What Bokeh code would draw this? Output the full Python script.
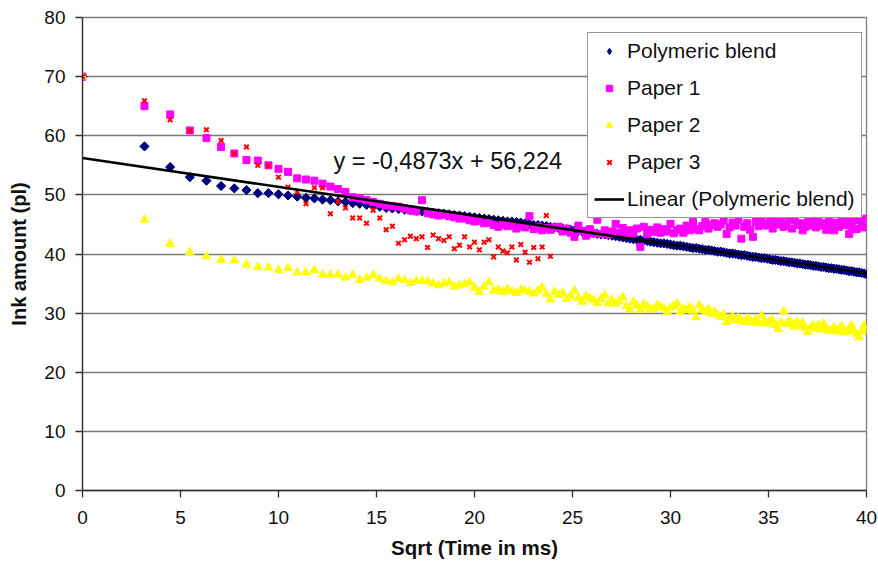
import math
from bokeh.plotting import figure
from bokeh.models import Legend, LegendItem, Label, Range1d, SingleIntervalTicker
from bokeh.embed import file_html
from bokeh.resources import INLINE

# ---- data -------------------------------------------------------------
time_ms = [0, 10, 20, 30, 40, 50, 60, 70, 80, 90,
           100, 110, 120, 130, 140, 150, 160, 170, 180, 190,
           200, 210, 220, 230, 240, 250, 260, 270, 280, 290,
           300, 310, 320, 330, 340, 350, 360, 370, 380, 390,
           400, 410, 420, 430, 440, 450, 460, 470, 480, 490,
           500, 510, 520, 530, 540, 550, 560, 570, 580, 590,
           600, 610, 620, 630, 640, 650, 660, 670, 680, 690,
           700, 710, 720, 730, 740, 750, 760, 770, 780, 790,
           800, 810, 820, 830, 840, 850, 860, 870, 880, 890,
           900, 910, 920, 930, 940, 950, 960, 970, 980, 990,
           1000, 1010, 1020, 1030, 1040, 1050, 1060, 1070, 1080, 1090,
           1100, 1110, 1120, 1130, 1140, 1150, 1160, 1170, 1180, 1190,
           1200, 1210, 1220, 1230, 1240, 1250, 1260, 1270, 1280, 1290,
           1300, 1310, 1320, 1330, 1340, 1350, 1360, 1370, 1380, 1390,
           1400, 1410, 1420, 1430, 1440, 1450, 1460, 1470, 1480, 1490,
           1500, 1510, 1520, 1530, 1540, 1550, 1560, 1570, 1580, 1590, 1600]

polymeric_blend = [70.0, 58.2, 54.7, 53.0, 52.4, 51.5, 51.1, 50.8, 50.3, 50.3,
                   50.1, 49.9, 49.7, 49.5, 49.4, 49.2, 49.1, 48.9, 48.8, 48.6,
                   48.5, 48.3, 48.1, 48.0, 47.8, 47.7, 47.6, 47.5, 47.4, 47.3,
                   47.2, 47.1, 47.0, 46.9, 46.8, 46.7, 46.6, 46.5, 46.4, 46.3,
                   46.2, 46.1, 46.0, 45.9, 45.8, 45.7, 45.6, 45.5, 45.5, 45.4,
                   45.3, 45.2, 45.1, 44.9, 44.9, 44.8, 44.7, 44.6, 44.5, 44.4,
                   44.3, 44.2, 44.1, 44.0, 43.9, 43.8, 43.7, 43.6, 43.5, 43.4,
                   43.3, 43.3, 43.2, 43.1, 43.0, 42.9, 42.8, 42.7, 42.6, 42.5,
                   42.4, 42.4, 42.3, 42.2, 42.1, 42.0, 41.9, 41.8, 41.8, 41.7,
                   41.6, 41.5, 41.4, 41.4, 41.3, 41.2, 41.1, 41.0, 41.0, 40.9,
                   40.8, 40.7, 40.7, 40.6, 40.5, 40.4, 40.4, 40.3, 40.2, 40.1,
                   40.1, 40.0, 39.9, 39.8, 39.8, 39.7, 39.6, 39.5, 39.5, 39.4,
                   39.3, 39.3, 39.2, 39.1, 39.0, 39.0, 38.9, 38.8, 38.8, 38.7,
                   38.6, 38.6, 38.5, 38.4, 38.4, 38.3, 38.2, 38.2, 38.1, 38.0,
                   38.0, 37.9, 37.8, 37.8, 37.7, 37.6, 37.6, 37.5, 37.5, 37.4,
                   37.3, 37.3, 37.2, 37.1, 37.1, 37.0, 36.9, 36.9, 36.8, 36.7, 36.6]

paper_1 = [70.0, 65.0, 63.6, 60.9, 59.6, 58.1, 57.0, 55.9, 55.8, 55.0,
           54.4, 53.9, 52.8, 52.6, 52.4, 51.9, 51.4, 51.0, 50.5, 49.6,
           49.4, 49.1, 48.8, 48.5, 48.2, 48.1, 48.0, 47.7, 47.4, 47.2,
           49.1, 46.9, 46.7, 46.5, 46.7, 46.4, 46.2, 46.0, 46.0, 45.7,
           45.5, 45.6, 45.2, 45.3, 44.9, 44.6, 45.0, 44.7, 44.8, 44.3,
           44.7, 44.5, 46.4, 44.2, 44.6, 44.0, 44.4, 44.1, 44.5, 44.6,
           43.8, 44.3, 43.6, 42.9, 44.8, 43.9, 43.1, 44.2, 43.5, 45.8,
           43.4, 44.0, 43.3, 43.8, 45.1, 43.6, 44.4, 43.2, 44.0, 43.5,
           44.3, 41.2, 44.6, 43.4, 44.1, 43.7, 44.5, 43.6, 44.2, 43.8,
           45.1, 43.5, 44.0, 44.3, 43.6, 44.8, 44.0, 45.4, 44.2, 44.0,
           44.7, 45.4, 44.3, 44.9, 45.2, 44.6, 45.0, 45.7, 43.4, 44.5,
           45.3, 44.8, 45.8, 42.6, 44.6, 45.2, 44.1, 42.9, 45.4, 44.7,
           46.0, 45.1, 44.8, 45.5, 44.3, 45.6, 45.0, 45.4, 44.6, 44.8,
           45.9, 44.3, 45.7, 44.9, 45.2, 44.0, 44.6, 45.4, 44.8, 45.7,
           44.5, 45.9, 44.8, 45.2, 44.1, 45.6, 44.7, 44.0, 45.3, 44.6,
           46.2, 44.9, 45.4, 43.4, 44.7, 45.7, 44.2, 45.8, 44.8, 44.5, 46.0]

paper_2 = [70.0, 45.8, 41.7, 40.3, 39.6, 39.0, 38.9, 38.2, 37.8, 37.7,
           37.3, 37.6, 36.9, 36.9, 37.3, 36.5, 36.5, 36.5, 36.0, 36.5,
           35.6, 36.0, 36.4, 35.8, 35.4, 35.2, 35.8, 35.6, 35.1, 35.5,
           35.4, 35.4, 35.0, 34.7, 35.0, 35.2, 34.5, 34.7, 34.9, 35.2,
           34.3, 33.6, 34.5, 35.2, 33.8, 34.0, 33.6, 34.1, 33.7, 33.4,
           34.0, 33.8, 33.6, 33.3, 33.8, 34.3, 33.2, 32.3, 33.6, 33.1,
           33.4, 32.4, 32.9, 33.8, 32.6, 31.9, 32.9, 32.5, 32.2, 31.7,
           32.4, 33.0, 31.6, 32.2, 31.6, 32.0, 32.7, 31.2, 30.6, 31.9,
           31.3, 30.5, 31.5, 31.1, 30.6, 30.7, 31.4, 31.1, 30.8, 30.2,
           30.9, 31.2, 31.6, 30.2, 30.8, 30.5, 31.0, 30.4, 29.3, 31.3,
           30.6, 30.2, 30.7, 29.9, 30.2, 29.7, 29.3, 29.8, 28.5, 29.0,
           29.4, 28.8, 29.2, 28.7, 28.5, 29.1, 28.8, 28.4, 28.9, 28.3,
           29.6, 28.6, 28.2, 28.7, 28.8, 28.0, 27.3, 28.4, 30.3, 28.1,
           28.6, 28.2, 27.7, 28.5, 27.9, 28.3, 27.5, 26.8, 27.6, 27.9,
           27.4, 28.0, 27.2, 28.2, 27.5, 27.0, 27.1, 27.6, 26.9, 27.3,
           27.8, 26.7, 26.8, 27.4, 27.9, 27.0, 26.5, 25.9, 26.9, 27.9, 27.0]

paper_3 = [70.0, 65.9, 62.7, 60.9, 61.0, 59.2, 57.0, 58.1, 55.0, 54.9,
           53.0, 51.3, 50.5, 48.5, 51.2, 51.2, 46.8, 48.9, 47.8, 46.1,
           46.1, 45.2, 47.4, 46.1, 44.1, 44.7, 41.8, 42.4, 43.0, 42.6,
           42.9, 41.1, 43.2, 42.6, 42.3, 42.9, 40.9, 41.5, 42.9, 41.2,
           42.0, 40.7, 42.0, 42.4, 39.5, 41.2, 40.5, 40.2, 41.2, 39.0,
           41.6, 40.3, 38.6, 41.1, 39.2, 41.2, 46.5, 39.6]

trend_slope = -0.4873
trend_intercept = 56.224
trend_x = [0, 40]

x_ticks = [0, 5, 10, 15, 20, 25, 30, 35, 40]
y_ticks = [0, 10, 20, 30, 40, 50, 60, 70, 80]

# ---- derived ----------------------------------------------------------
sqrt_t = [math.sqrt(t) for t in time_ms]
sqrt_t3 = sqrt_t[:len(paper_3)]
trend_y = [trend_intercept + trend_slope * xv for xv in trend_x]

FONT = "Liberation Sans"

p = figure(width=878, height=568, x_range=Range1d(0, 40), y_range=Range1d(0, 80),
           output_backend="svg", toolbar_location=None,
           min_border_left=82, min_border_right=12, min_border_top=17, min_border_bottom=78)

p.background_fill_color = "white"
p.border_fill_color = "white"
p.outline_line_color = "#7f7f7f"
p.outline_line_width = 1.3

p.xgrid.visible = False
p.ygrid.grid_line_color = "#7a7a7a"
p.ygrid.grid_line_width = 1.3
p.ygrid.ticker = SingleIntervalTicker(interval=10)

p.xaxis.ticker = x_ticks
p.yaxis.ticker = y_ticks
for ax in (p.xaxis[0], p.yaxis[0]):
    ax.axis_line_color = "#303030"
    ax.axis_line_width = 1.3
    ax.major_tick_line_color = "#303030"
    ax.major_tick_line_width = 1.3
    ax.major_tick_out = 7
    ax.major_tick_in = 0
    ax.minor_tick_out = 0
    ax.minor_tick_in = 0
    ax.major_label_text_font = FONT
    ax.major_label_text_font_size = "19px"
    ax.major_label_text_color = "#111111"
    ax.axis_label_text_font = FONT
    ax.axis_label_text_font_style = "bold"
    ax.axis_label_text_font_size = "20px"
    ax.axis_label_text_color = "#111111"

p.xaxis.major_label_standoff = 13
p.yaxis.major_label_standoff = 10
p.xaxis.axis_label = "Sqrt (Time in ms)"
p.yaxis.axis_label = "Ink amount (pl)"
p.xaxis.axis_label_standoff = 9
p.yaxis.axis_label_standoff = 11
p.xaxis.axis_label_text_font_size = "20.5px"

# legend key for the diamond symbol: same points, hidden under the rotated squares
r_poly_key = p.scatter(sqrt_t, polymeric_blend, marker="diamond", size=8,
                       fill_color="#000080", line_color="#000080")
r_poly = p.scatter(sqrt_t, polymeric_blend, marker="square", angle=math.pi / 4, size=6.5,
                   fill_color="#000080", line_color="#000080")
r_p1 = p.scatter(sqrt_t, paper_1, marker="square", size=7,
                 fill_color="#FF00FF", line_color="#FF00FF")
r_p2 = p.scatter(sqrt_t, paper_2, marker="triangle", size=8.5,
                 fill_color="#FFFF00", line_color="#FFFF00")
r_p3 = p.scatter(sqrt_t3, paper_3, marker="x", size=6.5,
                 line_color="#FF0000", line_width=2)
r_lin = p.line(trend_x, trend_y, line_color="black", line_width=2.6)

eq_text = "y = %s" % ("%.4f" % trend_slope).replace(".", ",") + "x + " + ("%.3f" % trend_intercept).replace(".", ",")
p.add_layout(Label(x=12.8, y=55.7, text=eq_text, text_font=FONT, text_font_size="23.5px",
                   text_baseline="middle", text_align="left", text_color="#111111"))

legend = Legend(items=[
    LegendItem(label="Polymeric blend", renderers=[r_poly_key]),
    LegendItem(label="Paper 1", renderers=[r_p1]),
    LegendItem(label="Paper 2", renderers=[r_p2]),
    LegendItem(label="Paper 3", renderers=[r_p3]),
    LegendItem(label="Linear (Polymeric blend)", renderers=[r_lin]),
], location=(505, 272))
legend.label_text_font = FONT
legend.label_text_font_size = "21px"
legend.label_text_color = "#111111"
legend.glyph_width = 30
legend.glyph_height = 16
legend.label_height = 20
legend.label_standoff = 3
legend.spacing = 13
legend.padding = 6
legend.margin = 0
legend.border_line_color = "#303030"
legend.border_line_width = 1.2
legend.background_fill_color = "white"
legend.background_fill_alpha = 1.0
p.add_layout(legend, "center")

open("out.html", "w").write(file_html(p, INLINE))
